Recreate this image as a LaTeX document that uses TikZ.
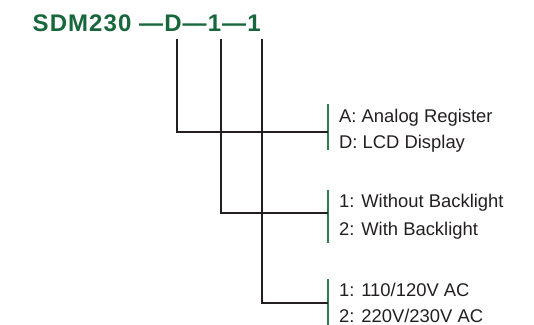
\documentclass[tikz,border=0pt]{standalone}
\usepackage{fontspec}
\setmainfont{Liberation Sans}
\newfontfamily\titlefont[LetterSpace=4.5]{Liberation Sans Bold}
\definecolor{sdmgreen}{HTML}{17663C}
\definecolor{barGreen}{HTML}{2A7E50}
\definecolor{ink}{HTML}{231F20}
\tikzset{
  wire/.style={draw=ink, line width=2pt},
  bar/.style={draw=barGreen, line width=2pt},
  opt/.style={anchor=base west, inner sep=0pt, text=ink, font=\fontsize{18.4}{22}\selectfont},
}
\begin{document}
\begin{tikzpicture}[x=1pt,y=-1pt]
\useasboundingbox (0,0) rectangle (534,324);
\node[anchor=base west, inner sep=0pt, text=sdmgreen, font=\titlefont\fontsize{24}{28}\selectfont] (title) at (32.5,31.5) {SDM230 —D—1—1};
% tops of the connector lines
\coordinate (t1) at (177,39);
\coordinate (t2) at (221,39);
\coordinate (t3) at (262,39);
% green bars
\coordinate (b1top) at (328,104); \coordinate (b1bot) at (328,150); \coordinate (b1) at (328,132);
\coordinate (b2top) at (328,190); \coordinate (b2bot) at (328,243); \coordinate (b2) at (328,213);
\coordinate (b3top) at (328,279); \coordinate (b3bot) at (328,326); \coordinate (b3) at (328,303);
\draw[bar] (b1top) -- (b1bot);
\draw[bar] (b2top) -- (b2bot);
\draw[bar] (b3top) -- (b3bot);
\draw[wire] (t1) |- (b1);
\draw[wire] (t2) |- (b2);
\draw[wire] (t3) |- (b3);
% option texts
\node[opt] (a1) at (339,122.7) {A: Analog Register};
\node[opt] (a2) at (339,148.3) {D: LCD Display};
\node[opt] (c1) at (339,207.3) {1: Without Backlight};
\node[opt] (c2) at (339,235.7) {2: With Backlight};
\node[opt] (v1) at (339,296.5) {1: 110/120V AC};
\node[opt] (v2) at (339,322.3) {2: 220V/230V AC};
\end{tikzpicture}
\end{document}
